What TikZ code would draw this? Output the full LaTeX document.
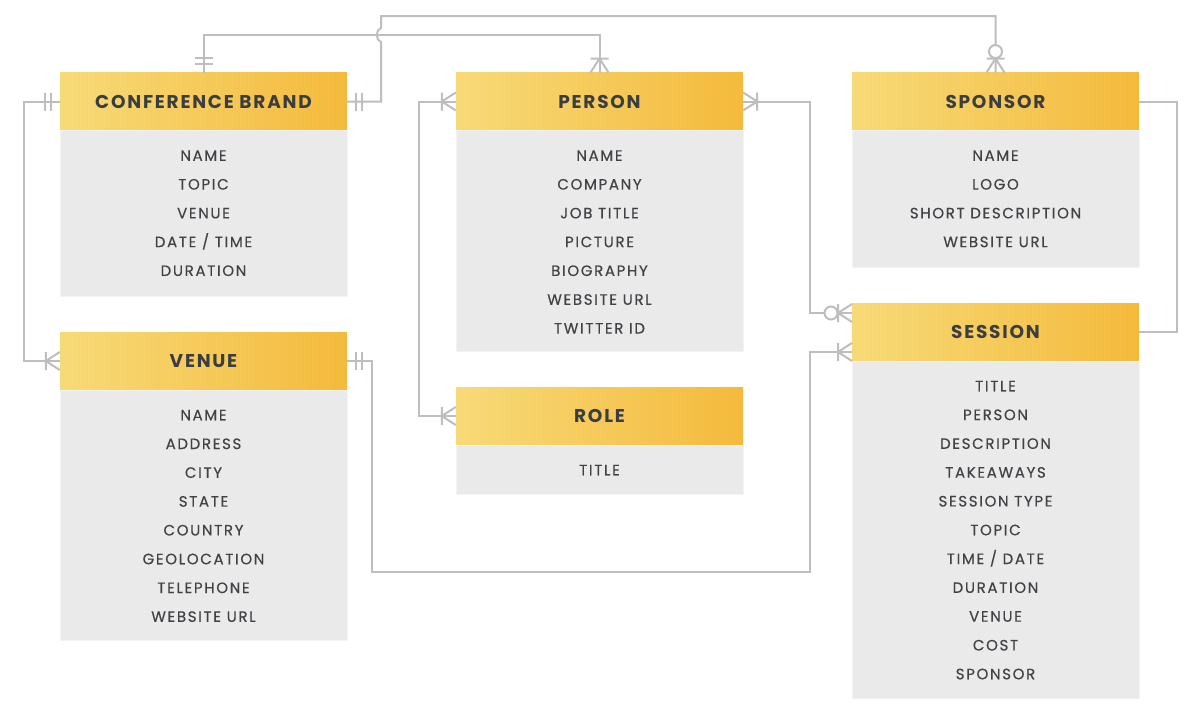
\documentclass[tikz,border=0pt]{standalone}
\usepackage{fontspec}
\setmainfont{Poppins}
\newfontfamily\hdrfont{Poppins}[LetterSpace=9.5]
\newfontfamily\rowfont{Poppins}[LetterSpace=11, FakeBold=0.35]
\usetikzlibrary{calc}
\definecolor{hdrL}{RGB}{247,218,120}
\definecolor{hdrR}{RGB}{244,186,60}
\definecolor{bodyc}{RGB}{234,234,234}
\definecolor{bodyedge}{RGB}{243,243,243}
\definecolor{txt}{RGB}{58,61,66}
\definecolor{rowtxt}{RGB}{64,66,70}
\definecolor{lnc}{RGB}{190,190,190}
\tikzset{
  hdr/.style={rectangle, minimum width=287pt, minimum height=57.5pt, inner sep=0pt,
    left color=hdrL, right color=hdrR, text=txt, font=\hdrfont\bfseries\fontsize{18.5}{18.5}\selectfont},
  bodyb/.style={rectangle, anchor=north, minimum width=287pt, inner sep=0pt,
    fill=bodyc, draw=bodyedge, line width=1pt},
  rowt/.style={anchor=base, inner sep=0pt, text=rowtxt, font=\rowfont\fontsize{15}{15}\selectfont},
  conn/.style={draw=lnc, line width=2pt},
  one/.pic={\draw[conn] (-9,-9)--(-9,9) (-15,-9)--(-15,9);},
  manyone/.pic={\draw[conn] (-14,0)--(0,-9) (-14,0)--(0,9) (-14,-9)--(-14,9);},
  zeromany/.pic={\draw[conn] (-14,0)--(0,-9) (-14,0)--(0,9) (-14,-9)--(-14,9);
    \draw[conn, fill=white] (-21,0) circle (6.5);}
}
\newcommand{\rows}[2]{%
  \foreach \t [count=\i] in {#2} {
    \node[rowt] (#1-r\i) at ($(#1b.north)+(0,25+5.3+28.8*\i-28.8)$) {\t};
  }}
\begin{document}
\begin{tikzpicture}[x=1pt,y=-1pt]
\useasboundingbox[fill=white] (0,0) rectangle (1200,716);

\coordinate (sesIn1) at (852,313);
\coordinate (sesIn2) at (852,352);

% entities
\node[hdr] (cb) at (203.5,101.5) {CONFERENCE BRAND};
\node[bodyb, minimum height=166pt] (cbb) at (cb.south) {};
\rows{cb}{NAME,TOPIC,VENUE,DATE / TIME,DURATION}

\node[hdr] (ven) at (203.5,361) {VENUE};
\node[bodyb, minimum height=250pt] (venb) at (ven.south) {};
\rows{ven}{NAME,ADDRESS,CITY,STATE,COUNTRY,GEOLOCATION,TELEPHONE,WEBSITE URL}

\node[hdr] (per) at (599.5,101.5) {PERSON};
\node[bodyb, minimum height=221pt] (perb) at (per.south) {};
\rows{per}{NAME,COMPANY,JOB TITLE,PICTURE,BIOGRAPHY,WEBSITE URL,TWITTER ID}

\node[hdr] (role) at (599.5,416) {ROLE};
\node[bodyb, minimum height=49pt] (roleb) at (role.south) {};
\rows{role}{TITLE}

\node[hdr] (sp) at (995.5,101.5) {SPONSOR};
\node[bodyb, minimum height=137pt] (spb) at (sp.south) {};
\rows{sp}{NAME,LOGO,SHORT DESCRIPTION,WEBSITE URL}

\node[hdr] (ses) at (995.5,332) {SESSION};
\node[bodyb, minimum height=337pt] (sesb) at (ses.south) {};
\rows{ses}{TITLE,PERSON,DESCRIPTION,TAKEAWAYS,SESSION TYPE,TOPIC,TIME / DATE,DURATION,VENUE,COST,SPONSOR}

% connectors
\draw[conn] (cb.north) -- ++(0,-38) -| (per.north);
\draw[conn] (cb.east) -| (381,42) .. controls (375.5,41) and (375.5,29) .. (381,28) -- (381,16) -| (sp.north);
\draw[conn] (cb.west) -- ++(-36,0) |- (ven.west);
\draw[conn] (ven.east) -| (372,572) -| (810,352) -- (sesIn2);
\draw[conn] (per.west) -- ++(-37,0) |- (role.west);
\draw[conn] (per.east) -- ++(67,0) |- (sesIn1);
\draw[conn] (sp.east) -- ++(38,0) |- (ses.east);

% end marks
\pic[rotate=-90] at (cb.north) {one};
\pic[xscale=-1] at (cb.east) {one};
\pic at (cb.west) {one};
\pic[rotate=-90] at (per.north) {manyone};
\pic[rotate=-90] at (sp.north) {zeromany};
\pic at (ven.west) {manyone};
\pic[xscale=-1] at (ven.east) {one};
\pic at (sesIn2) {manyone};
\pic at (per.west) {manyone};
\pic at (role.west) {manyone};
\pic[xscale=-1] at (per.east) {manyone};
\pic at (sesIn1) {zeromany};
\end{tikzpicture}
\end{document}
